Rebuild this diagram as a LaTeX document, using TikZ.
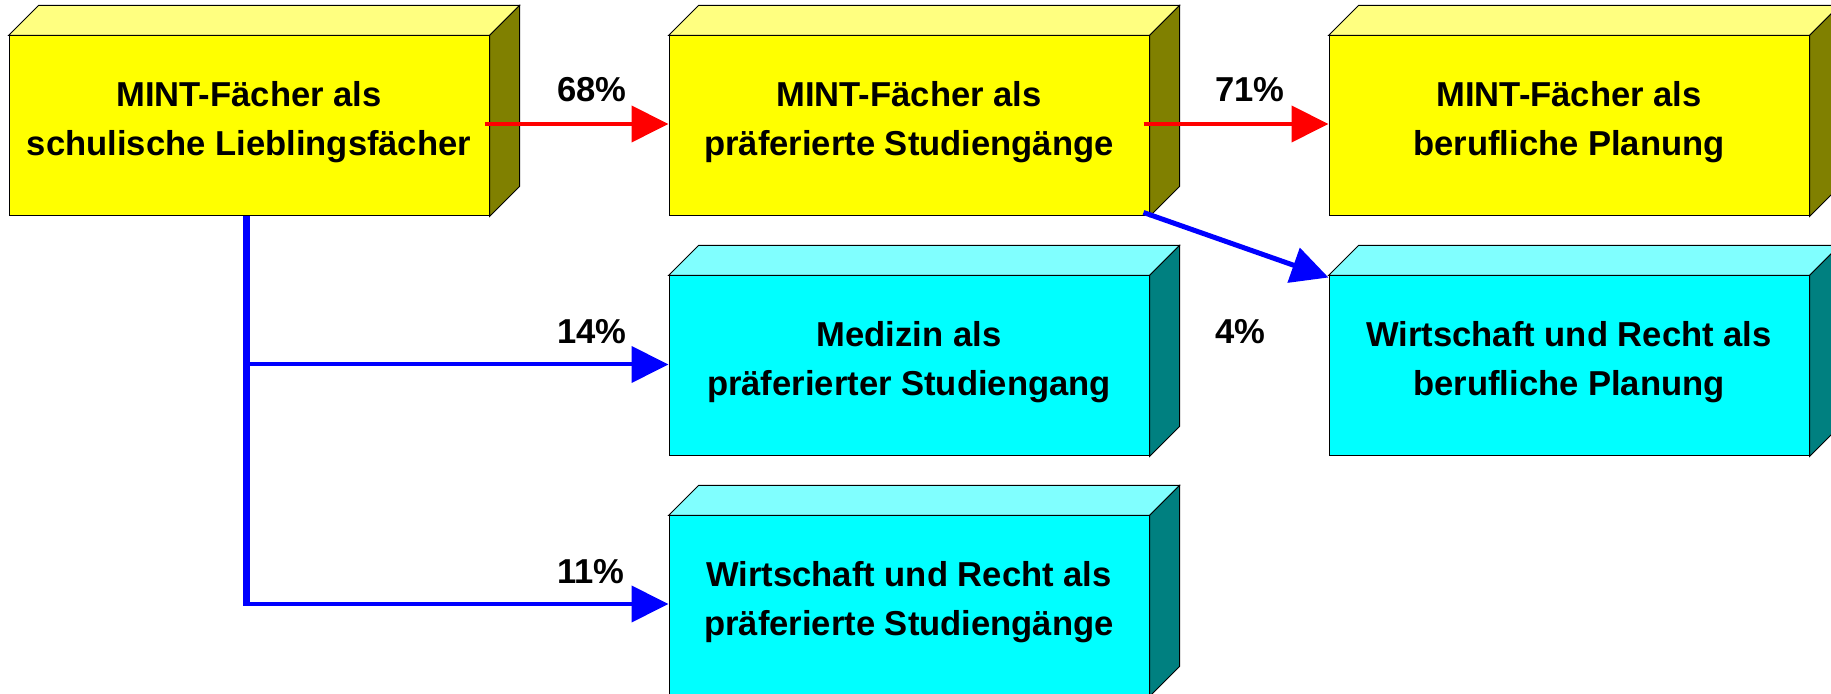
\documentclass[tikz,border=0pt]{standalone}
\usepackage{fontspec}
\setmainfont{Liberation Sans}
\usepackage{xcolor}
\usepackage{tikz}
\usetikzlibrary{arrows.meta,calc,positioning}

\definecolor{gelb}{HTML}{FFFF00}
\definecolor{gelbhell}{HTML}{FFFF80}
\definecolor{oliv}{HTML}{808000}
\definecolor{tuerkis}{HTML}{00FFFF}
\definecolor{tuerkishell}{HTML}{80FFFF}
\definecolor{petrol}{HTML}{008080}
\definecolor{pfeilrot}{HTML}{FF0000}
\definecolor{pfeilblau}{HTML}{0000FF}

\tikzset{
  quader/.style={draw=black,line width=0.5pt,minimum width=240pt,minimum height=90pt,
    inner sep=0pt,align=center,font=\bfseries\fontsize{17.3}{24.5}\selectfont,
    execute at end node={\rule[-7.6pt]{0pt}{0pt}}},
  quadergelb/.style={quader,fill=gelb},
  quadertuerkis/.style={quader,fill=tuerkis},
  anteil/.style={anchor=base west,inner sep=0pt,font=\bfseries\fontsize{17.3}{20}\selectfont},
  pfeil/.style={line width=2pt,-{Triangle[length=18.5pt,width=18pt]}},
}

\begin{document}
\begin{tikzpicture}[x=0.5pt,y=-0.5pt]
  \clip (0,0) rectangle (1831,694);
  % vordere Flaechen
  \node[quadergelb] (mint) at (249,126) {MINT-Fächer als\\schulische Lieblingsfächer};
  \node[quadergelb] (mintStud) at (909,126) {MINT-Fächer als\\präferierte Studiengänge};
  \node[quadergelb] (mintBeruf) at (1569,126) {MINT-Fächer als\\berufliche Planung};
  \node[quadertuerkis] (med) at (909,366) {Medizin als\\präferierter Studiengang};
  \node[quadertuerkis] (wrBeruf) at (1569,366) {Wirtschaft und Recht als\\berufliche Planung};
  \node[quadertuerkis] (wrStud) at (909,606) {Wirtschaft und Recht als\\präferierte Studiengänge};
  % Deckel und Seite
  \foreach \n/\oben/\seite in {mint/gelbhell/oliv,mintStud/gelbhell/oliv,mintBeruf/gelbhell/oliv,
      med/tuerkishell/petrol,wrBeruf/tuerkishell/petrol,wrStud/tuerkishell/petrol}{
    \filldraw[fill=\oben,draw=black,line width=0.5pt] (\n.north west) -- ++(30,-30)
      -- ($(\n.north east)+(30,-30)$) -- (\n.north east) -- cycle;
    \filldraw[fill=\seite,draw=black,line width=0.5pt] (\n.north east) -- ++(30,-30)
      -- ($(\n.south east)+(30,-30)$) -- (\n.south east) -- cycle;
  }
  % Pfeile
  \draw[pfeil,pfeilrot] ($(mint.east)+(-5,-2)$) -- (mintStud.west |- {$(mint.east)+(0,-2)$});
  \draw[pfeil,pfeilrot] ($(mintStud.east)+(-6,-2)$) -- (mintBeruf.west |- {$(mint.east)+(0,-2)$});
  \coordinate (abzweig) at ($(mint.south)+(-2.5,0)$);
  \coordinate (ecke) at ($(abzweig |- wrStud.west)+(0,-2)$);
  \draw[pfeilblau,line width=3.5pt] (abzweig) -- ($(ecke)+(0,2)$);
  \draw[pfeil,pfeilblau] ($(abzweig |- med.west)+(0,-1.5)$) -- ($(med.west)+(0,-1.5)$);
  \draw[pfeil,pfeilblau] (ecke) -- ($(wrStud.west)+(0,-2)$);
  \draw[pfeil,pfeilblau,line width=2.5pt] ($(mintStud.south east)+(-6,-4)$) -- ($(wrBeruf.north west)+(0,2)$);
  % Anteile
  \node[anteil] (p68) at (557,102) {68\%};
  \node[anteil] (p71) at (1215,102) {71\%};
  \node[anteil] (p14) at (557,344) {14\%};
  \node[anteil] (p4) at (1215,344) {4\%};
  \node[anteil] (p11) at (557,584) {11\%};
\end{tikzpicture}
\end{document}
